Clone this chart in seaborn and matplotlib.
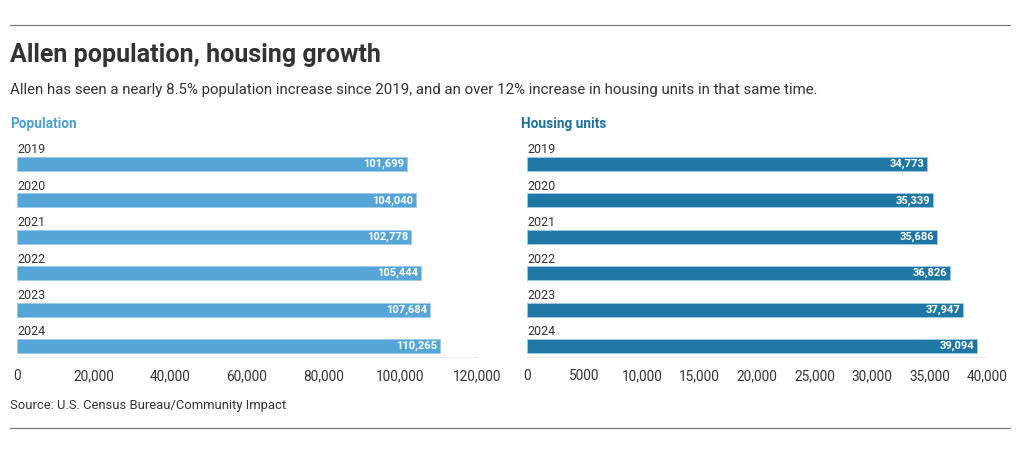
import matplotlib
matplotlib.use("Agg")
import matplotlib.pyplot as plt
import seaborn as sns
import pandas as pd
import numpy as np
from matplotlib.ticker import FixedLocator, FuncFormatter

years = ["2019", "2020", "2021", "2022", "2023", "2024"]
population = [101699, 104040, 102778, 105444, 107684, 110265]
housing = [34773, 35339, 35686, 36826, 37947, 39094]
pop_ticks = [0, 20000, 40000, 60000, 80000, 100000, 120000]
house_ticks = [0, 5000, 10000, 15000, 20000, 25000, 30000, 35000, 40000]

title = "Allen population, housing growth"
subtitle = ("Allen has seen a nearly 8.5% population increase since 2019, and an over 12% "
            "increase in housing units in that same time.")
source = "Source: U.S. Census Bureau/Community Impact"

sns.set_style("white")
plt.rcParams["font.family"] = ["Roboto", "DejaVu Sans"]

W, H = 1020, 453
fig = plt.figure(figsize=(W / 100, H / 100), dpi=100)

POP_COLOR = "#56a5d8"
HOUSE_COLOR = "#1f77a6"
TXT = "#333333"

def px_axes(x0, y0, x1, y1):
    return fig.add_axes([x0 / W, 1 - y1 / H, (x1 - x0) / W, (y1 - y0) / H])

def fmt_tick(v, pos=None):
    v = int(round(v))
    if v < 10000:
        return str(v)
    return f"{v:,}"

def panel(ax, values, ticks, xmax, color):
    df = pd.DataFrame({"year": years, "value": values})
    sns.barplot(data=df, x="value", y="year", order=years, ax=ax, color=color,
                width=0.385, orient="h", saturation=1, edgecolor="#9fcbe6",
                linewidth=0.6)
    ax.set_xlim(0, xmax)
    ax.set_ylim(5.30, -0.66)
    ax.set_xlabel("")
    ax.set_ylabel("")
    ax.set_yticks([])
    ax.xaxis.set_major_locator(FixedLocator(ticks))
    ax.xaxis.set_major_formatter(FuncFormatter(fmt_tick))
    step = ticks[1] - ticks[0]
    minors = [t + step / 2 for t in ticks[:-1]]
    ax.xaxis.set_minor_locator(FixedLocator(minors))
    ax.tick_params(axis="x", which="major", length=0, pad=9, labelsize=9.8,
                   labelcolor=TXT)
    ax.tick_params(axis="x", which="minor", length=6, width=0.8, color="#e2e2e2",
                   direction="out")
    for s in ["top", "right", "left"]:
        ax.spines[s].set_visible(False)
    ax.spines["bottom"].set_color("#eeeeee")
    ax.spines["bottom"].set_linewidth(0.8)
    for i, (y, v) in enumerate(zip(years, values)):
        ax.text(0, i - 0.39, y, ha="left", va="center", fontsize=9, color=TXT)
        ax.text(v - xmax * 0.006, i, f"{v:,}", ha="right", va="center",
                fontsize=8, fontweight="bold", color="white")

ax1 = px_axes(17, 140, 477, 357)
panel(ax1, population, pop_ticks, 120000, POP_COLOR)
ax2 = px_axes(527, 140, 987, 357)
panel(ax2, housing, house_ticks, 40000, HOUSE_COLOR)

def ftext(x, y, s, **kw):
    fig.text(x / W, 1 - y / H, s, **kw)

ftext(10, 55, title, fontsize=18, fontweight="bold", color=TXT, va="center", ha="left")
ftext(10, 90, subtitle, fontsize=10.8, color=TXT, va="center", ha="left")
ftext(10, 124, "Population", fontsize=9.8, fontweight="bold", color="#4a9fd4", va="center", ha="left")
ftext(521, 124, "Housing units", fontsize=9.8, fontweight="bold", color="#1d6fa0", va="center", ha="left")
ftext(10, 406, source, fontsize=9.4, color=TXT, va="center", ha="left")

for yy in (25, 428):
    fig.add_artist(plt.Line2D([10 / W, 1010 / W], [1 - yy / H, 1 - yy / H],
                              color="#7a7a7a", linewidth=0.9, transform=fig.transFigure))

fig.savefig("out.png", dpi=100)
